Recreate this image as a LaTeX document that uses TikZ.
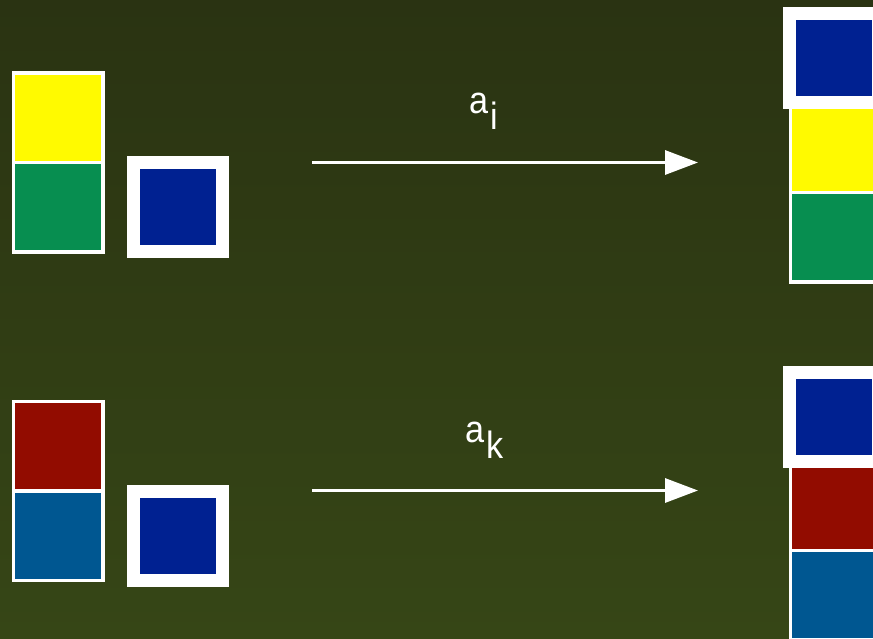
\documentclass[tikz,border=0pt]{standalone}
\usepackage{fontspec}
\setmainfont{Liberation Sans}
\usetikzlibrary{arrows.meta}

\definecolor{bgtop}{RGB}{42,51,18}
\definecolor{bgbot}{RGB}{54,70,22}
\definecolor{cyellow}{RGB}{255,250,0}
\definecolor{cgreen}{RGB}{7,142,80}
\definecolor{boxblue}{RGB}{0,33,145}
\definecolor{cred}{RGB}{146,12,0}
\definecolor{csteel}{RGB}{0,87,145}

\tikzset{
  cell/.style={draw=white, line width=3.5pt, minimum width=89.5pt,
    minimum height=89.5pt, inner sep=0pt},
  framed/.style={draw=white, line width=13pt, fill=boxblue,
    minimum size=89pt, inner sep=0pt},
  move/.style={draw=white, line width=3.2pt, -{Triangle[length=33pt,width=24pt]}},
  lbl/.style={text=white, font=\fontsize{38}{40}\selectfont,
    inner sep=0pt, anchor=base west}
}
\newcommand{\actlabel}[2]{\scalebox{0.9}[1]{#1\kern3pt\raisebox{-16pt}{#2}}}

\begin{document}
\begin{tikzpicture}[x=1pt,y=-1pt]
  \useasboundingbox (0,0) rectangle (873,638);
  \clip (0,0) rectangle (873,638);
  \fill[top color=bgtop, bottom color=bgbot] (0,0) rectangle (873,638);

  % first move: stack of two, block on the side
  \node[cell, fill=cyellow] (y1) at (58.25,117.75) {};
  \node[cell, fill=cgreen]  (g1) at (58.25,207.25) {};
  \node[framed] (b1) at (178,207) {};

  \coordinate (s1) at (312,162.5);
  \coordinate (t1) at (698,162.5);
  \draw[move] (s1) -- (t1);
  \node[lbl] (l1) at (469,113) {\actlabel{a}{i}};

  % result: block placed on top of the stack
  \node[cell, fill=cyellow] (y2) at (835,147.5) {};
  \node[cell, fill=cgreen]  (g2) at (835,237) {};
  \node[framed] (b2) at (834,58) {};

  % second move
  \node[cell, fill=cred]   (r1) at (58.25,446.25) {};
  \node[cell, fill=csteel] (c1) at (58.25,535.75) {};
  \node[framed] (b3) at (178,535.5) {};

  \coordinate (s2) at (312,490.5);
  \coordinate (t2) at (698,490.5);
  \draw[move] (s2) -- (t2);
  \node[lbl] (l2) at (465,442) {\actlabel{a}{k}};

  \node[cell, fill=cred]   (r2) at (835,505.75) {};
  \node[cell, fill=csteel] (c2) at (835,595.25) {};
  \node[framed] (b4) at (834,416.5) {};
\end{tikzpicture}
\end{document}
